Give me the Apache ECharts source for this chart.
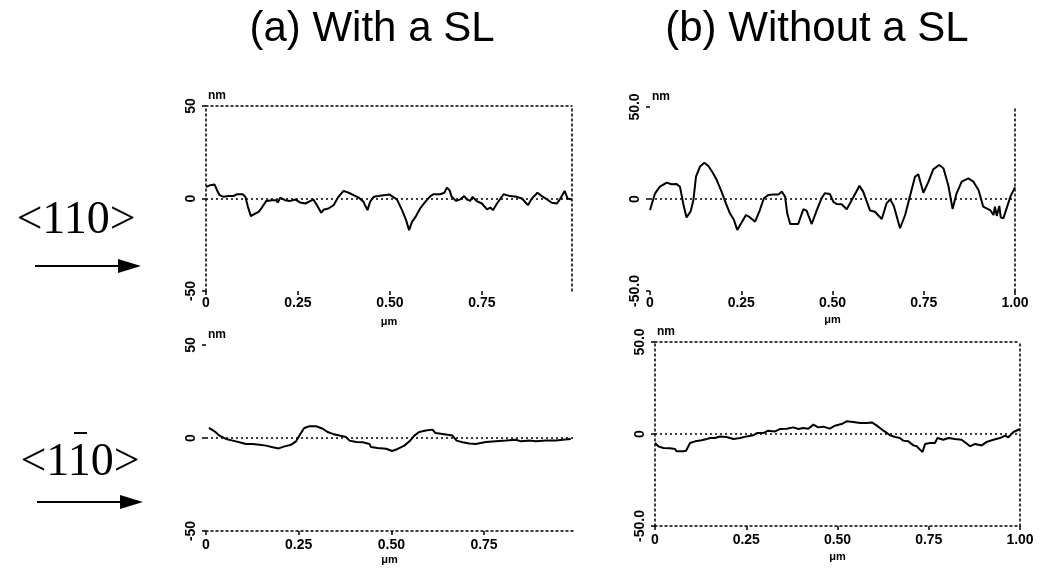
<!DOCTYPE html>
<html>
<head>
<meta charset="utf-8">
<script src="https://cdn.jsdelivr.net/npm/echarts@6/dist/echarts.min.js"></script>
<style>
html, body { margin: 0; padding: 0; background: #fff; }
#main { width: 1041px; height: 569px; }
</style>
</head>
<body>
<div id="main"></div>
<script>
// line profiles: position along the scan (um) and height (nm)
var xA110 = [0, 0.012, 0.023, 0.030, 0.037, 0.048, 0.061, 0.075, 0.084, 0.100, 0.107, 0.114, 0.122, 0.131, 0.143, 0.152, 0.164, 0.179, 0.191, 0.195, 0.202, 0.215, 0.227, 0.243, 0.256, 0.270, 0.283, 0.292, 0.303, 0.313, 0.321, 0.333, 0.347, 0.360, 0.374, 0.388, 0.401, 0.415, 0.428, 0.439, 0.446, 0.456, 0.469, 0.483, 0.499, 0.505, 0.519, 0.533, 0.544, 0.552, 0.560, 0.571, 0.582, 0.596, 0.610, 0.619, 0.637, 0.648, 0.655, 0.662, 0.668, 0.680, 0.691, 0.702, 0.709, 0.718, 0.725, 0.735, 0.750, 0.764, 0.773, 0.780, 0.791, 0.809, 0.827, 0.845, 0.859, 0.875, 0.886, 0.901, 0.913, 0.927, 0.940, 0.954, 0.965, 0.975, 0.983, 0.994];
var hA110 = [6.3, 7.2, 7.6, 4.5, 1.8, 0.9, 1.4, 1.4, 2.3, 2.3, 0.9, -4.5, -9.5, -8.5, -7.2, -4.9, -1.3, -0.9, -0.9, -2.2, 0.4, -0.9, -1.4, -0.5, -2.2, -2.7, -1.4, -0.5, -4.1, -7.7, -5.9, -5.4, -3.6, 0.9, 4.1, 3.1, 1.8, 0.5, -1.8, -6.3, -1.8, 0.9, 1.3, 1.8, 2.2, 1.3, -0.5, -6.3, -11.7, -17.1, -12.6, -9.5, -5.4, -1.8, 1.3, 2.3, 2.3, 3.1, 5.9, 4.5, 0.9, -1.3, -0.5, 1.3, -0.5, -1.3, 0.9, -1.3, -2.7, -5.9, -4.9, -6.3, -2.7, 2.3, 1.3, 0.9, 0, -3.6, 0, 3.1, 1.3, -0.5, -2.3, -2.7, 0.5, 4.1, 0, -0.5];

var xB110 = [0, 0.014, 0.027, 0.046, 0.059, 0.073, 0.082, 0.091, 0.100, 0.111, 0.119, 0.126, 0.137, 0.149, 0.160, 0.172, 0.183, 0.196, 0.208, 0.219, 0.230, 0.239, 0.247, 0.263, 0.274, 0.288, 0.301, 0.312, 0.324, 0.338, 0.352, 0.361, 0.370, 0.376, 0.384, 0.395, 0.406, 0.420, 0.429, 0.443, 0.457, 0.470, 0.479, 0.493, 0.502, 0.511, 0.525, 0.539, 0.553, 0.574, 0.584, 0.603, 0.616, 0.635, 0.648, 0.658, 0.668, 0.685, 0.699, 0.712, 0.726, 0.735, 0.749, 0.763, 0.776, 0.792, 0.804, 0.817, 0.829, 0.840, 0.854, 0.872, 0.886, 0.900, 0.913, 0.922, 0.932, 0.941, 0.945, 0.950, 0.957, 0.961, 0.968, 0.977, 0.988, 1.000];
var hB110 = [-6.0, 3.1, 6.7, 8.9, 8.0, 8.1, 6.7, -2.4, -10.0, -6.9, -0.5, 12.1, 17.6, 19.7, 17.9, 14.3, 10.3, 4.0, -2.4, -7.8, -11.4, -16.8, -14.1, -8.7, -10.0, -12.3, -6.0, 0.4, 2.2, 2.5, 2.5, 4.0, 1.3, -7.8, -13.6, -13.6, -13.6, -5.6, -6.3, -13.6, -6.0, 0.4, 3.1, 2.7, -1.4, -2.7, -2.9, -5.6, -0.5, 7.2, 4.0, -6.3, -6.9, -10.9, -2.4, -0.2, -3.8, -15.9, -8.7, 1.3, 12.1, 13.4, 3.4, 9.4, 16.1, 18.5, 16.7, 7.6, -5.4, 3.1, 9.4, 11.2, 9.4, 4.9, -4.2, -5.1, -6.0, -8.7, -4.2, -9.2, -3.8, -10.0, -10.5, -5.1, 1.6, 6.3];

var xA1b10 = [0.008, 0.023, 0.036, 0.054, 0.072, 0.090, 0.108, 0.126, 0.144, 0.162, 0.180, 0.196, 0.212, 0.230, 0.243, 0.252, 0.265, 0.279, 0.297, 0.315, 0.328, 0.342, 0.360, 0.378, 0.387, 0.405, 0.423, 0.441, 0.445, 0.463, 0.486, 0.502, 0.517, 0.535, 0.549, 0.562, 0.575, 0.593, 0.611, 0.619, 0.638, 0.665, 0.676, 0.692, 0.710, 0.728, 0.733, 0.755, 0.782, 0.809, 0.836, 0.850, 0.872, 0.890, 0.917, 0.944, 0.962, 0.984];
var hA1b10 = [5.4, 3.6, 1.3, -0.5, -1.4, -2.3, -3.2, -3.2, -3.6, -4.1, -5.0, -5.6, -4.5, -3.6, -1.8, 1.3, 5.4, 6.3, 6.3, 5.0, 3.2, 2.2, 1.3, 0.5, -1.4, -2.2, -2.3, -3.2, -4.9, -5.4, -5.8, -7.0, -5.9, -4.1, -1.8, 1.3, 3.2, 4.0, 4.5, 2.7, 2.2, 1.3, -1.4, -2.3, -2.9, -3.2, -2.3, -2.2, -1.8, -1.4, -0.9, -1.8, -1.3, -1.8, -1.3, -1.3, -0.9, -0.5];

var xB1b10 = [0, 0.009, 0.023, 0.041, 0.055, 0.059, 0.078, 0.085, 0.096, 0.110, 0.128, 0.142, 0.151, 0.164, 0.178, 0.196, 0.215, 0.233, 0.251, 0.269, 0.279, 0.297, 0.310, 0.329, 0.342, 0.361, 0.379, 0.393, 0.406, 0.420, 0.434, 0.447, 0.461, 0.479, 0.493, 0.511, 0.525, 0.543, 0.562, 0.580, 0.594, 0.607, 0.626, 0.644, 0.658, 0.671, 0.680, 0.694, 0.708, 0.717, 0.726, 0.733, 0.740, 0.753, 0.767, 0.774, 0.790, 0.804, 0.822, 0.840, 0.852, 0.863, 0.877, 0.895, 0.909, 0.927, 0.945, 0.959, 0.968, 0.982, 1.000];
var hB1b10 = [-4.9, -6.7, -7.6, -7.8, -8.1, -9.4, -9.4, -9.1, -4.9, -4.0, -3.4, -2.7, -2.2, -2.2, -1.4, -1.6, -2.7, -2.2, -1.3, -0.7, 0.5, 0.5, 1.8, 1.4, 2.7, 2.9, 3.6, 2.7, 3.3, 2.9, 5.1, 3.6, 4.0, 2.9, 4.5, 5.4, 6.9, 6.5, 6.0, 6.0, 6.3, 4.7, 1.8, -0.7, -1.6, -2.2, -3.6, -4.0, -6.2, -6.7, -8.5, -9.8, -5.4, -4.9, -4.9, -2.2, -3.1, -2.2, -2.7, -3.1, -4.9, -6.7, -5.4, -6.2, -4.3, -3.1, -2.2, -0.9, -1.8, 1.1, 2.7];

var titles = ['(a) With a SL', '(b) Without a SL'];
var xTicks = ['0', '0.25', '0.50', '0.75', '1.00'];
var yTicksA = ['-50', '0', '50'];
var yTicksB = ['-50.0', '0', '50.0'];

function zip(xs, ys) {
    var out = [];
    for (var i = 0; i < xs.length; i++) out.push([xs[i], ys[i]]);
    return out;
}

var mychart = echarts.init(document.getElementById('main'));

var black = '#000';
var tickFont = 'Liberation Sans';
var dots = { show: true, onZero: false, lineStyle: { color: black, width: 1.5, type: [2, 3] } };
var noLine = { show: false, onZero: false };

var panels = [
    { grid: { left: 206, top: 106, width: 366, height: 185 }, xMax: 0.995, data: zip(xA110, hA110), yLab: yTicksA,
      frame: { left: true, top: true, right: true, bottom: false }, labelGap: 5, nameGap: 25 },
    { grid: { left: 650, top: 107, width: 365, height: 184 }, xMax: 1, data: zip(xB110, hB110), yLab: yTicksB,
      frame: { left: false, top: false, right: true, bottom: false }, labelGap: 5, nameGap: 23 },
    { grid: { left: 206, top: 345, width: 367, height: 186 }, xMax: 0.99, data: zip(xA1b10, hA1b10), yLab: yTicksA,
      frame: { left: false, top: false, right: false, bottom: true }, labelGap: 7, nameGap: 23 },
    { grid: { left: 655, top: 342, width: 365, height: 184 }, xMax: 1, data: zip(xB1b10, hB1b10), yLab: yTicksB,
      frame: { left: true, top: true, right: true, bottom: true }, labelGap: 7, nameGap: 25 }
];

var grids = [], xAxes = [], yAxes = [], series = [];

panels.forEach(function (p, i) {
    grids.push(Object.assign({ containLabel: false }, p.grid));
    xAxes.push({
        type: 'value', gridIndex: i, min: 0, max: p.xMax, interval: 0.25,
        axisLine: p.frame.bottom ? dots : noLine,
        axisTick: { show: true, length: 4, lineStyle: { color: black, width: 1.5 } },
        axisLabel: {
            margin: p.labelGap, color: black, fontFamily: tickFont, fontWeight: 'bold', fontSize: 14,
            showMaxLabel: p.xMax >= 1,
            formatter: function (v) { return xTicks[Math.round(v / 0.25)]; }
        },
        splitLine: { show: false },
        name: 'μm', nameLocation: 'middle', nameGap: p.nameGap,
        nameTextStyle: { color: black, fontFamily: tickFont, fontWeight: 'bold', fontSize: 11 }
    });
    xAxes.push({
        type: 'value', gridIndex: i, position: 'top', min: 0, max: p.xMax,
        axisLine: p.frame.top ? dots : noLine,
        axisTick: { show: false }, axisLabel: { show: false }, splitLine: { show: false }
    });
    yAxes.push({
        type: 'value', gridIndex: i, min: -50, max: 50, interval: 50,
        axisLine: p.frame.left ? dots : noLine,
        axisTick: { show: true, length: 4, lineStyle: { color: black, width: 1.5 } },
        axisLabel: {
            rotate: 90, margin: 8, color: black, fontFamily: tickFont, fontWeight: 'bold', fontSize: 14,
            formatter: function (v) { return p.yLab[Math.round(v / 50) + 1]; }
        },
        splitLine: { show: false },
        name: 'nm', nameLocation: 'end', nameGap: 4,
        nameTextStyle: { color: black, fontFamily: tickFont, fontWeight: 'bold', fontSize: 12,
                         align: 'left', verticalAlign: 'bottom', padding: [0, 0, 0, 2] }
    });
    yAxes.push({
        type: 'value', gridIndex: i, position: 'right', min: -50, max: 50,
        axisLine: p.frame.right ? dots : noLine,
        axisTick: { show: false }, axisLabel: { show: false }, splitLine: { show: false }
    });
    series.push({
        type: 'line', xAxisIndex: 2 * i, yAxisIndex: 2 * i,
        data: p.data, symbol: 'none', smooth: false,
        lineStyle: { color: black, width: 2 },
        markLine: {
            silent: true, symbol: 'none', label: { show: false },
            lineStyle: { color: black, width: 1.5, type: [2, 3] },
            data: [{ yAxis: 0 }]
        }
    });
});

var serif = '46px "Liberation Serif"';
var titleStyle = { fontSize: 42, fontWeight: 'normal', fontFamily: 'Liberation Sans', color: black };

option = {
    backgroundColor: '#fff',
    animation: false,
    title: [
        { text: titles[0], left: 372, top: 8, textAlign: 'center', padding: 0, textStyle: titleStyle },
        { text: titles[1], left: 817, top: 8, textAlign: 'center', padding: 0, textStyle: titleStyle }
    ],
    grid: grids,
    xAxis: xAxes,
    yAxis: yAxes,
    series: series,
    graphic: [
        { type: 'text', x: 76, y: 221, style: { text: '<110>', font: serif, fill: black, textAlign: 'center', textVerticalAlign: 'middle' } },
        { type: 'line', shape: { x1: 35, y1: 266, x2: 122, y2: 266 }, style: { stroke: black, lineWidth: 2 } },
        { type: 'polygon', shape: { points: [[118, 259], [141, 266], [118, 273]] }, style: { fill: black } },
        { type: 'text', x: 80, y: 463, style: { text: '<110>', font: serif, fill: black, textAlign: 'center', textVerticalAlign: 'middle' } },
        { type: 'line', shape: { x1: 74, y1: 433, x2: 87, y2: 433 }, style: { stroke: black, lineWidth: 2 } },
        { type: 'line', shape: { x1: 37, y1: 502, x2: 124, y2: 502 }, style: { stroke: black, lineWidth: 2 } },
        { type: 'polygon', shape: { points: [[120, 495], [143, 502], [120, 509]] }, style: { fill: black } }
    ]
};
mychart.setOption(option, true);
</script>
</body>
</html>
